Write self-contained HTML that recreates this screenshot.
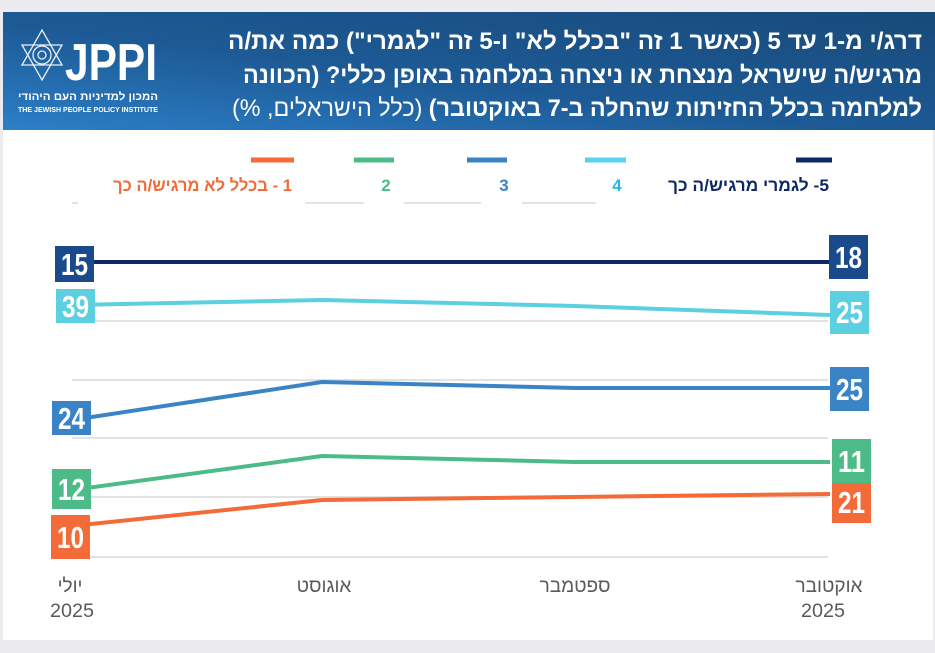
<!DOCTYPE html>
<html><head><meta charset="utf-8"><style>
html,body{margin:0;padding:0;background:#ecebef;}
svg{display:block}
</style></head><body>
<svg width="935" height="653" viewBox="0 0 935 653" xmlns="http://www.w3.org/2000/svg" font-family="'Liberation Sans', 'DejaVu Sans', sans-serif">
<defs>
<linearGradient id="hg" x1="0" y1="1" x2="1" y2="0">
<stop offset="0" stop-color="#2c7fc8"/><stop offset="0.45" stop-color="#1d5a95"/><stop offset="1" stop-color="#184a7a"/>
</linearGradient>
</defs>
<rect x="0" y="0" width="935" height="653" fill="#ecebef"/>
<rect x="3" y="130" width="930" height="510" fill="#ffffff"/>
<rect x="3" y="12" width="932" height="118" fill="url(#hg)"/>
<g stroke="#fff" stroke-width="1.3" fill="none" opacity="0.9">
<polygon points="42,30 62,65 22,65"/><polygon points="42,80 62,45 22,45"/>
<circle cx="42" cy="55" r="9"/><circle cx="42" cy="55" r="4"/>
</g>
<text x="65" y="80" fill="#fff" font-size="52" font-weight="bold" textLength="92" lengthAdjust="spacingAndGlyphs">JPPI</text>
<text x="158" y="100" fill="#fff" font-size="11" font-weight="bold" direction="rtl" text-anchor="start" textLength="140" lengthAdjust="spacingAndGlyphs">המכון למדיניות העם היהודי</text>
<text x="18" y="112" fill="#fff" font-size="7.5" font-weight="bold" textLength="140" lengthAdjust="spacingAndGlyphs">THE JEWISH PEOPLE POLICY INSTITUTE</text>
<g fill="#fff" font-size="24" font-weight="bold">
<text x="922" y="49" direction="rtl" text-anchor="start" textLength="694" lengthAdjust="spacingAndGlyphs">דרג/י מ-1 עד 5  (כאשר 1 זה "בכלל לא" ו-5 זה "לגמרי")  כמה את/ה</text>
<text x="922" y="83" direction="rtl" text-anchor="start" textLength="679" lengthAdjust="spacingAndGlyphs">מרגיש/ה שישראל מנצחת או ניצחה במלחמה באופן כללי? (הכוונה</text>
<text x="922" y="116" direction="rtl" text-anchor="start" textLength="690" lengthAdjust="spacingAndGlyphs">למלחמה בכלל החזיתות שהחלה ב-7 באוקטובר) <tspan font-weight="normal">(כלל הישראלים, %)</tspan></text>
</g>
<g stroke-width="5">
<line x1="251" y1="160" x2="294" y2="160" stroke="#f26b38"/>
<line x1="354" y1="160" x2="394" y2="160" stroke="#4dbb87"/>
<line x1="467" y1="160" x2="507" y2="160" stroke="#3a84c6"/>
<line x1="585" y1="160" x2="626" y2="160" stroke="#5bd0f0"/>
<line x1="796" y1="160" x2="832" y2="160" stroke="#0e2766"/>
</g>
<g font-size="17" font-weight="bold">
<text x="292" y="191" fill="#f26b38" direction="rtl" text-anchor="start" textLength="179" lengthAdjust="spacingAndGlyphs">1 - בכלל לא מרגיש/ה כך</text>
<text x="386" y="191" fill="#4dbb87" text-anchor="middle">2</text>
<text x="504" y="191" fill="#3a84c6" text-anchor="middle">3</text>
<text x="617" y="191" fill="#29b6f0" text-anchor="middle">4</text>
<text x="829" y="191" fill="#0e2766" direction="rtl" text-anchor="start" textLength="161" lengthAdjust="spacingAndGlyphs">5- לגמרי מרגיש/ה כך</text>
</g>
<g stroke="#e4e4e4" stroke-width="2">
<line x1="72" y1="203" x2="78" y2="203"/>
<line x1="305" y1="203" x2="364" y2="203"/>
<line x1="404" y1="203" x2="481" y2="203"/>
<line x1="522" y1="203" x2="596" y2="203"/>
</g>
<g stroke="#e2e2e2" stroke-width="2">
<line x1="72" y1="321" x2="828" y2="321"/>
<line x1="72" y1="380" x2="828" y2="380"/>
<line x1="72" y1="438" x2="828" y2="438"/>
<line x1="72" y1="497" x2="828" y2="497"/>
<line x1="72" y1="557" x2="828" y2="557"/>
</g>
<g fill="none" stroke-width="4" stroke-linejoin="round">
<polyline points="72,262 322,262 575,262 830,262" stroke="#0e2766"/>
<polyline points="72,305 322,300 575,306 830,315" stroke="#5ccfe0"/>
<polyline points="72,420 322,382 575,388 830,388" stroke="#3a84c6"/>
<polyline points="72,490 322,456 575,462 830,462" stroke="#4dbb87"/>
<polyline points="72,526 322,500 575,497 830,494" stroke="#f26b38"/>
</g>
<g>
<rect x="55" y="246" width="39" height="36" fill="#1b4a8c"/>
<rect x="56" y="289" width="39" height="34" fill="#5ccfe0"/>
<rect x="52" y="401" width="39" height="34" fill="#3a84c6"/>
<rect x="52" y="469" width="39" height="40" fill="#4dbb87"/>
<rect x="51" y="515" width="39" height="44" fill="#f26b38"/>
<rect x="829" y="235" width="39" height="44" fill="#1b4a8c"/>
<rect x="830" y="291" width="39" height="43" fill="#5ccfe0"/>
<rect x="830" y="367" width="39" height="44" fill="#3a84c6"/>
<rect x="832" y="480" width="39" height="43" fill="#f26b38"/>
<rect x="832" y="439" width="39" height="44" fill="#4dbb87"/>
</g>
<g fill="#fff" font-size="31" font-weight="bold" text-anchor="middle">
<text x="74.5" y="275" textLength="27" lengthAdjust="spacingAndGlyphs">15</text>
<text x="75.5" y="317" textLength="27" lengthAdjust="spacingAndGlyphs">39</text>
<text x="71.5" y="429" textLength="27" lengthAdjust="spacingAndGlyphs">24</text>
<text x="71.5" y="500" textLength="27" lengthAdjust="spacingAndGlyphs">12</text>
<text x="70.5" y="548" textLength="27" lengthAdjust="spacingAndGlyphs">10</text>
<text x="848.5" y="268" textLength="27" lengthAdjust="spacingAndGlyphs">18</text>
<text x="849.5" y="323" textLength="27" lengthAdjust="spacingAndGlyphs">25</text>
<text x="849.5" y="400" textLength="27" lengthAdjust="spacingAndGlyphs">25</text>
<text x="851.5" y="472" textLength="27" lengthAdjust="spacingAndGlyphs">11</text>
<text x="851.5" y="513" textLength="27" lengthAdjust="spacingAndGlyphs">21</text>
</g>
<g fill="#5a5a5a" font-size="19" text-anchor="middle">
<text x="70" y="592">יולי</text>
<text x="72" y="617" textLength="44" lengthAdjust="spacingAndGlyphs">2025</text>
<text x="324" y="592">אוגוסט</text>
<text x="575" y="592">ספטמבר</text>
<text x="829" y="592">אוקטובר</text>
<text x="823" y="617" textLength="44" lengthAdjust="spacingAndGlyphs">2025</text>
</g>
</svg>
</body></html>
